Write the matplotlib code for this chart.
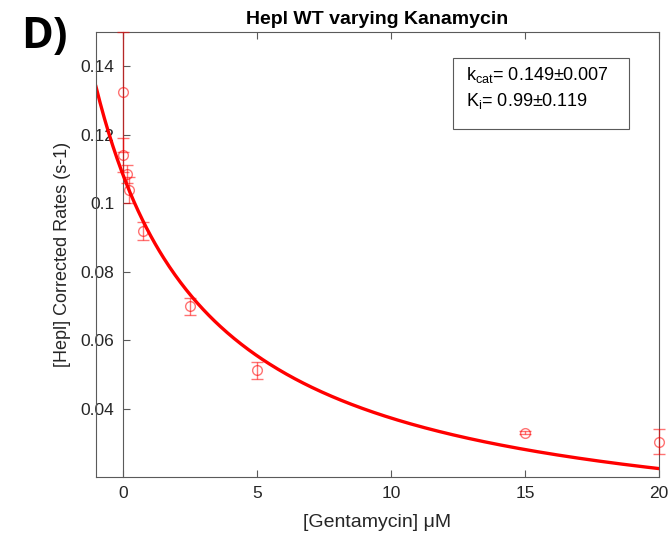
import numpy as np
import matplotlib
matplotlib.use("Agg")
import matplotlib.pyplot as plt
from matplotlib.patches import Rectangle

# Data
conc = [0.0, 0.02, 0.15, 0.25, 0.75, 2.5, 5.0, 15.0, 20.0]
rate = [0.1324, 0.1142, 0.1086, 0.1038, 0.0919, 0.0699, 0.0512, 0.0330, 0.0304]
rate_err = [0.0175, 0.0050, 0.0027, 0.0038, 0.0025, 0.0024, 0.0025, 0.0005, 0.0037]

# Fit curve parameters (apparent)
fit_v0 = 0.1085
fit_k = 5.24
fit_range = [-1.0, 20.0]

title = "Hepl WT varying Kanamycin"
xlabel = "[Gentamycin] \u03bcM"
ylabel = "[Hepl] Corrected Rates (s-1)"
xticks = [0, 5, 10, 15, 20]
yticks = [0.04, 0.06, 0.08, 0.10, 0.12, 0.14]
yticklabels = ["0.04", "0.06", "0.08", "0.1", "0.12", "0.14"]
box_lines = [r"k$_{\rm cat}$= 0.149$\pm$0.007", r"K$_{\rm i}$= 0.99$\pm$0.119"]

plt.rcParams['font.family'] = ['Liberation Sans', 'DejaVu Sans']
plt.rcParams['mathtext.fontset'] = 'custom'
plt.rcParams['mathtext.rm'] = 'Liberation Sans'

fig = plt.figure(figsize=(6.71, 5.35), dpi=100)
ax = fig.add_axes([0.143, 0.108, 0.839, 0.832])

gray = '#5a5a5a'
txt = '#262626'

xs = np.linspace(fit_range[0], fit_range[1], 400)
ys = fit_v0 / (1 + xs / fit_k)
ax.plot(xs, ys, color='red', lw=2.4, zorder=3)

eb = ax.errorbar(conc, rate, yerr=rate_err, fmt='o', mfc='none', mec=(1, 0, 0, 0.55),
                 ms=7, mew=1.0, ecolor=(1, 0, 0, 0.55), elinewidth=1.0, capsize=4,
                 capthick=1.0, zorder=4)
for art in eb.lines[0:1] + tuple(eb.lines[1]) + tuple(eb.lines[2]):
    art.set_clip_on(False)

ax.set_xlim(-1, 20)
ax.set_ylim(0.02, 0.15)

ax.spines['left'].set_position(('data', 0))
for s in ax.spines.values():
    s.set_color(gray)
    s.set_linewidth(0.8)
# left box edge at x=-1
ax.plot([0, 0], [0, 1], transform=ax.transAxes, color=gray, lw=0.8, clip_on=False, zorder=5)

ax.set_xticks(xticks)
ax.set_xticklabels([str(t) for t in xticks])
ax.set_yticks(yticks)
ax.set_yticklabels(yticklabels)
ax.tick_params(axis='x', direction='in', length=5, width=0.8, color=gray,
               labelcolor=txt, labelsize=12.5, top=True, pad=6)
ax.tick_params(axis='y', direction='in', length=5, width=0.8, color=gray,
               labelcolor=txt, labelsize=12.5, right=False, pad=6)

ax.set_title(title, fontsize=14, fontweight='bold', color='black', pad=6)
ax.set_xlabel(xlabel, fontsize=14, color=txt, labelpad=10)
ax.set_ylabel(ylabel, fontsize=13, color=txt)
ax.yaxis.set_label_coords(-0.045, 0.5)

# parameter box
ax.add_patch(Rectangle((0.634, 0.782), 0.313, 0.16, transform=ax.transAxes,
                       fc='white', ec=gray, lw=0.8, zorder=6, clip_on=False))
ax.text(0.657, 0.903, box_lines[0], transform=ax.transAxes, fontsize=13,
        color='black', va='center', ha='left', zorder=7)
ax.text(0.657, 0.845, box_lines[1], transform=ax.transAxes, fontsize=13,
        color='black', va='center', ha='left', zorder=7)

fig.text(0.031, 0.932, "D)", fontsize=31, fontweight='bold', color='black',
         ha='left', va='center', family=['Open Sans', 'DejaVu Sans'])

fig.savefig('out.png', dpi=100)
